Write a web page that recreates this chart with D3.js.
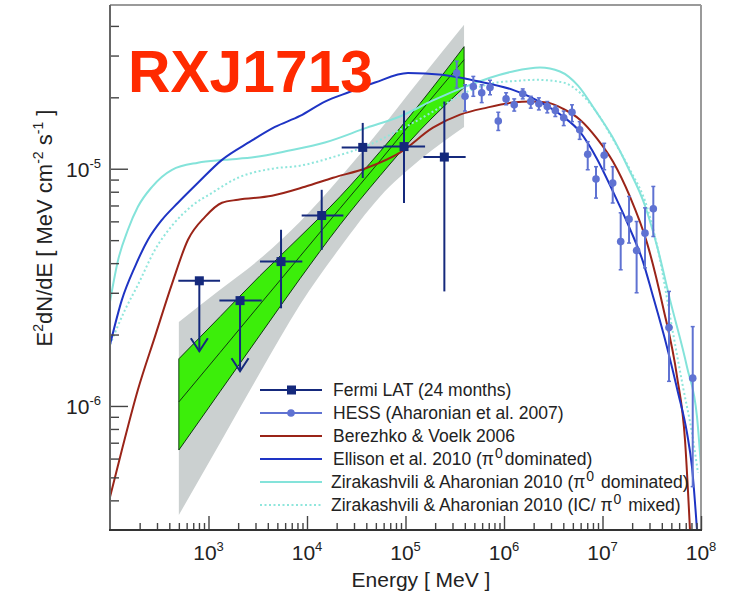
<!DOCTYPE html>
<html>
<head>
<meta charset="utf-8">
<script src="https://cdn.jsdelivr.net/npm/d3@7"></script>
<style>
  body { margin: 0; background: #fff; }
  text { font-family: "Liberation Sans", Arial, sans-serif; }
</style>
</head>
<body>
<div id="chart"></div>
<script>
// ---- data (energies in MeV, E^2 dN/dE in MeV cm^-2 s^-1) ----

// Fermi LAT (24 months)
const fermiE   = [807, 2090, 5450, 14100, 36800, 96600, 248000];
const fermiElo = [494, 1290, 3330, 8830, 22500, 59600, 152000];
const fermiEhi = [1310, 3470, 8960, 23400, 59600, 158000, 408000];
const fermiF   = [3.37e-6, 2.78e-6, 4.06e-6, 6.35e-6, 1.23e-5, 1.24e-5, 1.12e-5];
const fermiFlo = [1.70e-6, 1.40e-6, 2.58e-6, 4.55e-6, 9.14e-6, 7.17e-6, 3.04e-6];
const fermiFhi = [3.37e-6, 2.78e-6, 5.53e-6, 8.15e-6, 1.56e-5, 1.76e-5, 1.92e-5];
const fermiUL  = [true, true, false, false, false, false, false];

// HESS (Aharonian et al. 2007)
const hessE = [3.31e5, 4.02e5, 4.88e5, 5.94e5, 7.21e5, 8.75e5, 1.05e6, 1.27e6, 1.55e6, 1.87e6,
               2.26e6, 2.75e6, 3.32e6, 4.04e6, 4.90e6, 5.87e6, 7.08e6, 8.59e6, 1.04e7, 1.27e7,
               1.53e7, 1.86e7, 2.22e7, 2.70e7, 3.28e7, 4.73e7, 8.24e7];
const hessF = [2.53e-5, 2.02e-5, 2.22e-5, 2.09e-5, 2.20e-5, 1.59e-5, 1.97e-5, 1.86e-5, 2.07e-5, 1.92e-5,
               1.88e-5, 1.83e-5, 1.76e-5, 1.64e-5, 1.73e-5, 1.46e-5, 1.15e-5, 9.05e-6, 1.14e-5, 8.70e-6,
               4.93e-6, 6.13e-6, 4.52e-6, 5.35e-6, 6.78e-6, 2.14e-6, 1.31e-6];
const hessFlo = [2.19e-5, 1.75e-5, 2.02e-5, 1.90e-5, 2.05e-5, 1.45e-5, 1.86e-5, 1.75e-5, 1.97e-5, 1.80e-5,
                 1.77e-5, 1.72e-5, 1.66e-5, 1.52e-5, 1.58e-5, 1.33e-5, 9.90e-6, 7.52e-6, 9.90e-6, 7.17e-6,
                 3.75e-6, 4.86e-6, 3.00e-6, 3.82e-6, 5.18e-6, 1.27e-6, 4.57e-7];
const hessFhi = [2.84e-5, 2.26e-5, 2.45e-5, 2.26e-5, 2.36e-5, 1.73e-5, 2.09e-5, 1.97e-5, 2.17e-5, 2.02e-5,
                 1.99e-5, 1.92e-5, 1.84e-5, 1.75e-5, 1.86e-5, 1.58e-5, 1.30e-5, 1.02e-5, 1.28e-5, 1.02e-5,
                 6.52e-6, 7.64e-6, 5.99e-6, 6.84e-6, 8.42e-6, 3.04e-6, 2.16e-6];

// Fermi fit butterflies (green: stat, grey: stat+sys)
const bandE    = [500, 1310, 3330, 8490, 21600, 55100, 140000, 393000];
const greenHi  = [1.58e-6, 2.38e-6, 3.54e-6, 5.17e-6, 7.62e-6, 1.18e-5, 1.88e-5, 3.27e-5];
const greenMid = [1.04e-6, 1.68e-6, 2.68e-6, 4.27e-6, 6.80e-6, 1.08e-5, 1.73e-5, 2.88e-5];
const greenLo  = [6.52e-7, 1.15e-6, 1.99e-6, 3.44e-6, 5.80e-6, 9.34e-6, 1.45e-5, 2.20e-5];
const grayHi   = [2.26e-6, 3.09e-6, 4.17e-6, 5.98e-6, 9.16e-6, 1.46e-5, 2.38e-5, 4.05e-5];
const grayLo   = [3.47e-7, 6.98e-7, 1.38e-6, 2.67e-6, 4.64e-6, 7.62e-6, 1.09e-5, 1.50e-5];

// model curves
const berezhkoE = [100, 132, 192, 286, 426, 619, 922, 1370, 1990, 4410, 9540, 18400, 40700, 87900, 1.90e5,
                   3.58e5, 6.72e5, 1.23e6, 1.84e6, 2.73e6, 3.97e6, 5.91e6, 8.80e6, 1.28e7, 1.90e7, 2.83e7,
                   4.11e7, 5.71e7, 6.88e7, 7.73e7];
const berezhkoF = [4.13e-7, 6.52e-7, 1.17e-6, 1.96e-6, 3.27e-6, 5.02e-6, 6.27e-6, 7.19e-6, 7.40e-6, 7.69e-6,
                   8.39e-6, 9.16e-6, 1.01e-5, 1.17e-5, 1.49e-5, 1.69e-5, 1.81e-5, 1.90e-5, 1.92e-5, 1.90e-5,
                   1.79e-5, 1.61e-5, 1.34e-5, 1.07e-5, 7.62e-6, 4.87e-6, 2.62e-6, 1.33e-6, 7.19e-7, 3.00e-7];

const ellisonE = [100, 132, 179, 243, 337, 490, 782, 1370, 2640, 4730, 8490, 15200, 27300, 49000, 1.06e5,
                  2.35e5, 5.08e5, 1.23e6, 1.84e6, 2.73e6, 3.97e6, 5.91e6, 8.80e6, 1.28e7, 1.90e7, 2.58e7,
                  3.18e7, 4.52e7, 5.84e7, 7.21e7, 8.10e7, 9.11e7];
const ellisonF = [1.81e-6, 2.80e-6, 3.86e-6, 5.02e-6, 6.09e-6, 7.19e-6, 8.73e-6, 1.09e-5, 1.30e-5, 1.50e-5,
                  1.67e-5, 1.92e-5, 2.11e-5, 2.31e-5, 2.53e-5, 2.49e-5, 2.35e-5, 2.15e-5, 2.01e-5, 1.84e-5,
                  1.66e-5, 1.43e-5, 1.10e-5, 8.00e-6, 5.58e-6, 4.05e-6, 3.00e-6, 1.77e-6, 1.14e-6, 7.69e-7,
                  5.53e-7, 3.00e-7];

const zaPiE = [100, 121, 152, 192, 267, 426, 782, 1470, 2970, 6420, 15200, 40700, 87900, 1.90e5, 4.31e5,
               7.21e5, 1.23e6, 2.32e6, 3.70e6, 5.64e6, 8.39e6, 1.25e7, 1.82e7, 2.70e7, 3.66e7, 4.85e7,
               7.21e7, 9.11e7, 1e8];
const zaPiF = [2.75e-6, 4.13e-6, 5.53e-6, 6.91e-6, 8.39e-6, 9.90e-6, 1.06e-5, 1.09e-5, 1.12e-5, 1.19e-5,
               1.29e-5, 1.49e-5, 1.66e-5, 1.94e-5, 2.24e-5, 2.42e-5, 2.57e-5, 2.67e-5, 2.57e-5, 2.24e-5,
               1.77e-5, 1.37e-5, 1.01e-5, 6.98e-6, 4.55e-6, 2.80e-6, 1.46e-6, 8.99e-7, 5.53e-7];

const zaMixE = [100, 142, 192, 286, 426, 680, 1090, 1990, 4410, 8490, 18400, 40700, 87900, 1.90e5, 4.21e5,
                8.49e5, 1.23e6, 2.16e6, 3.97e6, 5.91e6, 8.80e6, 1.28e7, 1.90e7, 2.83e7, 3.66e7, 5.20e7,
                6.57e7, 8.10e7, 9.32e7];
const zaMixF = [1.81e-6, 2.54e-6, 3.24e-6, 4.55e-6, 5.75e-6, 6.98e-6, 7.92e-6, 9.16e-6, 1.00e-5, 1.03e-5,
                1.12e-5, 1.25e-5, 1.46e-5, 1.74e-5, 2.11e-5, 2.31e-5, 2.34e-5, 2.37e-5, 2.31e-5, 2.09e-5,
                1.72e-5, 1.33e-5, 9.90e-6, 6.91e-6, 4.55e-6, 2.03e-6, 1.20e-6, 7.69e-7, 5.22e-7];

// axes
const xMajor = [1e3, 1e4, 1e5, 1e6, 1e7, 1e8];
const xMajorExp = ["3", "4", "5", "6", "7", "8"];
const xDecades = [1e2, 1e3, 1e4, 1e5, 1e6, 1e7];
const yMajor = [1e-6, 1e-5];
const yMajorExp = ["-6", "-5"];
const yMinor = [4e-7, 5e-7, 6e-7, 7e-7, 8e-7, 9e-7, 2e-6, 3e-6, 4e-6, 5e-6, 6e-6, 7e-6, 8e-6, 9e-6,
                2e-5, 3e-5, 4e-5];
const mults = [2, 3, 4, 5, 6, 7, 8, 9];

// ---- drawing ----
const width = 736, height = 600;
const svg = d3.select("#chart").append("svg")
    .attr("width", width).attr("height", height)
    .style("background", "#fff");

const x = d3.scaleLog().domain([100, 1e8]).range([110, 701]);
const y = d3.scaleLog().domain([3e-7, 4.9e-5]).range([530, 5]);

svg.append("clipPath").attr("id", "plotclip")
  .append("rect").attr("x", 110).attr("y", 5).attr("width", 591).attr("height", 525);

const plot = svg.append("g").attr("clip-path", "url(#plotclip)");

// butterflies
const band = bandE.map((e, i) => ({e, gh: greenHi[i], gm: greenMid[i], gl: greenLo[i], yh: grayHi[i], yl: grayLo[i]}));
const bandArea = (lo, hi) => d3.area().x(d => x(d.e)).y0(d => y(d[lo])).y1(d => y(d[hi])).curve(d3.curveMonotoneX);
const bandLine = key => d3.line().x(d => x(d.e)).y(d => y(d[key])).curve(d3.curveMonotoneX);

plot.append("path").datum(band).attr("d", bandArea("yl", "yh")).attr("fill", "#cbd0d0");
plot.append("path").datum(band).attr("d", bandArea("gl", "gh"))
    .attr("fill", "#3cee0a").attr("stroke", "#103a10").attr("stroke-width", 1);
plot.append("path").datum(band).attr("d", bandLine("gm"))
    .attr("fill", "none").attr("stroke", "#103a10").attr("stroke-width", 1);

// model curves
const line = d3.line().x(d => x(d[0])).y(d => y(d[1])).curve(d3.curveMonotoneX);
const curves = [
  {e: zaMixE, f: zaMixF, color: "#8fe6dc", dash: "2,2.5"},
  {e: zaPiE, f: zaPiF, color: "#84e3da", dash: null},
  {e: berezhkoE, f: berezhkoF, color: "#9a2418", dash: null},
  {e: ellisonE, f: ellisonF, color: "#1e34c4", dash: null}
];
curves.forEach(c => {
  plot.append("path").datum(d3.zip(c.e, c.f)).attr("d", line)
      .attr("fill", "none").attr("stroke", c.color).attr("stroke-width", 2)
      .attr("stroke-dasharray", c.dash);
});

// HESS points
const hessCol = "#5f72d2";
const hess = plot.append("g");
hessE.forEach((e, i) => {
  const cx = x(e);
  hess.append("line").attr("x1", cx).attr("x2", cx).attr("y1", y(hessFlo[i])).attr("y2", y(hessFhi[i]))
      .attr("stroke", hessCol).attr("stroke-width", 2);
  [hessFlo[i], hessFhi[i]].forEach(v => {
    hess.append("line").attr("x1", cx - 2).attr("x2", cx + 2).attr("y1", y(v)).attr("y2", y(v))
        .attr("stroke", hessCol).attr("stroke-width", 1.5);
  });
  hess.append("circle").attr("cx", cx).attr("cy", y(hessF[i])).attr("r", 3.8).attr("fill", hessCol);
});

// Fermi points
const fermiCol = "#15297c";
const fermi = svg.append("g");
fermiE.forEach((e, i) => {
  const cx = x(e), cy = y(fermiF[i]);
  fermi.append("line").attr("x1", x(fermiElo[i])).attr("x2", x(fermiEhi[i])).attr("y1", cy).attr("y2", cy)
      .attr("stroke", fermiCol).attr("stroke-width", 2);
  fermi.append("line").attr("x1", cx).attr("x2", cx).attr("y1", y(fermiFlo[i])).attr("y2", y(fermiFhi[i]))
      .attr("stroke", fermiCol).attr("stroke-width", 2);
  if (fermiUL[i]) {
    const ty = y(fermiFlo[i]);
    fermi.append("path").attr("d", `M${cx - 8.5},${ty - 13}L${cx},${ty}L${cx + 8.5},${ty - 13}`)
        .attr("fill", "none").attr("stroke", fermiCol).attr("stroke-width", 2);
  }
  fermi.append("rect").attr("x", cx - 4.5).attr("y", cy - 4.5).attr("width", 9).attr("height", 9)
      .attr("fill", fermiCol);
});

// frame
svg.append("line").attr("x1", 110).attr("x2", 701).attr("y1", 5).attr("y2", 5)
    .attr("stroke", "#9a9a9a").attr("stroke-width", 2);
svg.append("line").attr("x1", 701).attr("x2", 701).attr("y1", 5).attr("y2", 530)
    .attr("stroke", "#9a9a9a").attr("stroke-width", 2);

// axes: ticks point into the plot
const tickStyle = g => g.selectAll("line").attr("stroke", "#444").attr("stroke-width", 1.4);
const xMinor = xDecades.flatMap(d => mults.map(m => d * m));

const xMinG = svg.append("g").attr("transform", "translate(0,530)")
    .call(d3.axisBottom(x).tickValues(xMinor).tickSizeInner(-7).tickSizeOuter(0).tickFormat(""));
const xMajG = svg.append("g").attr("transform", "translate(0,530)")
    .call(d3.axisBottom(x).tickValues(xMajor).tickSizeInner(-14).tickSizeOuter(0).tickFormat(""));
const yMinG = svg.append("g").attr("transform", "translate(110,0)")
    .call(d3.axisLeft(y).tickValues(yMinor).tickSizeInner(-9).tickSizeOuter(0).tickFormat(""));
const yMajG = svg.append("g").attr("transform", "translate(110,0)")
    .call(d3.axisLeft(y).tickValues(yMajor).tickSizeInner(-18).tickSizeOuter(0).tickFormat(""));
[xMinG, xMajG, yMinG, yMajG].forEach(g => { g.call(tickStyle); g.select(".domain").remove(); });

svg.append("line").attr("x1", 110).attr("x2", 110).attr("y1", 5).attr("y2", 531)
    .attr("stroke", "#666").attr("stroke-width", 2);
svg.append("line").attr("x1", 109).attr("x2", 702).attr("y1", 530).attr("y2", 530)
    .attr("stroke", "#333").attr("stroke-width", 2);

// tick labels 10^n
xMajor.forEach((v, i) => {
  const t = svg.append("text").attr("x", x(v)).attr("y", 560).attr("text-anchor", "middle")
      .attr("fill", "#222").attr("font-size", 21);
  t.append("tspan").text("10");
  t.append("tspan").attr("dy", -9).attr("font-size", 13).text(xMajorExp[i]);
});
yMajor.forEach((v, i) => {
  const t = svg.append("text").attr("x", 101).attr("y", y(v) + 8).attr("text-anchor", "end")
      .attr("fill", "#222").attr("font-size", 21);
  t.append("tspan").text("10");
  t.append("tspan").attr("dy", -9).attr("font-size", 13).text(yMajorExp[i]);
});

// axis titles
svg.append("text").attr("x", 421).attr("y", 587).attr("text-anchor", "middle")
    .attr("fill", "#222").attr("font-size", 21).text("Energy [ MeV ]");

const yt = svg.append("text").attr("transform", "translate(52,228) rotate(-90)")
    .attr("text-anchor", "middle").attr("fill", "#222").attr("font-size", 22);
yt.append("tspan").text("E");
yt.append("tspan").attr("dy", -9).attr("font-size", 14).text("2");
yt.append("tspan").attr("dy", 9).text("dN/dE [ MeV cm");
yt.append("tspan").attr("dy", -9).attr("font-size", 14).text("-2");
yt.append("tspan").attr("dy", 9).text(" s");
yt.append("tspan").attr("dy", -9).attr("font-size", 14).text("-1");
yt.append("tspan").attr("dy", 9).text(" ]");

// title
svg.append("text").attr("x", 128).attr("y", 92)
    .attr("font-family", "'DejaVu Sans', sans-serif").attr("font-weight", "bold")
    .attr("font-size", 60).attr("fill", "#ff2a00")
    .attr("textLength", 245).attr("lengthAdjust", "spacingAndGlyphs")
    .text("RXJ1713");

// legend
const legendLabels = [
  ["Fermi LAT (24 months)"],
  ["HESS (Aharonian et al. 2007)"],
  ["Berezhko & Voelk 2006"],
  ["Ellison et al. 2010 (\u03c0", "0", "dominated)"],
  ["Zirakashvili & Aharonian 2010 (\u03c0", "0", " dominated)"],
  ["Zirakashvili & Aharonian 2010 (IC/ \u03c0", "0", " mixed)"]
];
const legendColors = [fermiCol, hessCol, "#9a2418", "#1e34c4", "#84e3da", "#8fe6dc"];
const legendDash = [null, null, null, null, null, "2,2.5"];
const legend = svg.append("g");
legendLabels.forEach((lab, i) => {
  const ly = 390 + i * 23;
  legend.append("line").attr("x1", 260).attr("x2", 322).attr("y1", ly).attr("y2", ly)
      .attr("stroke", legendColors[i]).attr("stroke-width", 2).attr("stroke-dasharray", legendDash[i]);
  if (i === 0) legend.append("rect").attr("x", 287).attr("y", ly - 4.5).attr("width", 9).attr("height", 9)
      .attr("fill", fermiCol);
  if (i === 1) legend.append("circle").attr("cx", 291).attr("cy", ly).attr("r", 3.8).attr("fill", hessCol);
  const t = legend.append("text").attr("x", i >= 4 ? 331 : 333).attr("y", ly + 6)
      .attr("fill", "#222").attr("font-size", 17.5);
  t.append("tspan").text(lab[0]);
  if (lab.length > 1) {
    t.append("tspan").attr("dx", 1).attr("dy", -7).attr("font-size", 14).text(lab[1]);
    t.append("tspan").attr("dx", 2).attr("dy", 7).text(lab[2]);
  }
});
</script>
</body>
</html>
